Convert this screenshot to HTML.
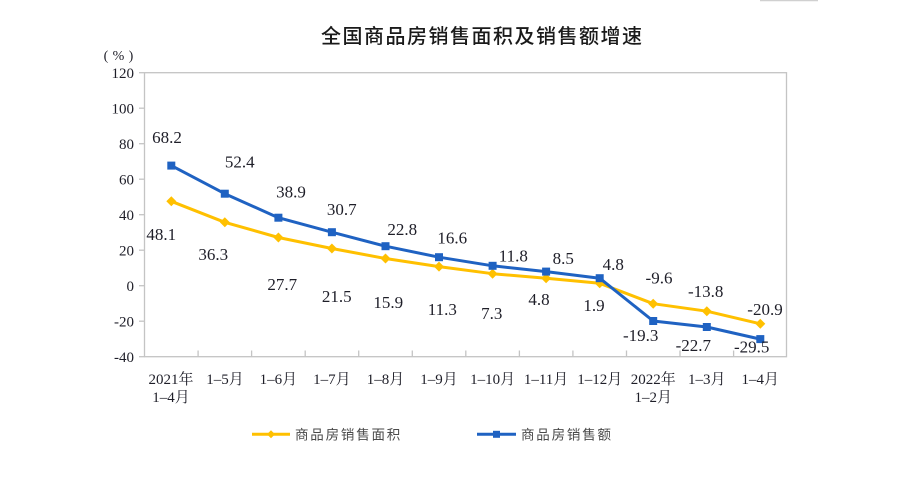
<!DOCTYPE html>
<html><head><meta charset="utf-8"><style>
html,body{margin:0;padding:0;background:#fff;}
svg{display:block;}
.t{font-family:"Liberation Serif","Noto Serif CJK SC",serif;fill:#1e1e28;}
</style></head><body>
<svg width="898" height="483" viewBox="0 0 898 483" xmlns="http://www.w3.org/2000/svg">
<rect width="898" height="483" fill="#fff"/>
<line x1="760" y1="0.5" x2="818" y2="0.5" stroke="#d0d0d0" stroke-width="1.5"/>
<text x="481.5" y="43" text-anchor="middle" font-family="'Liberation Sans','Noto Sans CJK SC',sans-serif" font-size="20" font-weight="500" fill="#1a1a1a" textLength="321" lengthAdjust="spacing">全国商品房销售面积及销售额增速</text>
<g class="t" font-size="14" text-anchor="middle">
<text x="106" y="60">(</text>
<text x="118.5" y="60">%</text>
<text x="131" y="60">)</text>
</g>
<!-- frame -->
<rect x="144.5" y="72.7" width="642" height="284" fill="none" stroke="#c4c4c4" stroke-width="1.3"/>
<g stroke="#c4c4c4" stroke-width="1.3">
<line x1="139" y1="72.7" x2="144.5" y2="72.7"/>
<line x1="139" y1="108.2" x2="144.5" y2="108.2"/>
<line x1="139" y1="143.7" x2="144.5" y2="143.7"/>
<line x1="139" y1="179.2" x2="144.5" y2="179.2"/>
<line x1="139" y1="214.7" x2="144.5" y2="214.7"/>
<line x1="139" y1="250.2" x2="144.5" y2="250.2"/>
<line x1="139" y1="285.7" x2="144.5" y2="285.7"/>
<line x1="139" y1="321.2" x2="144.5" y2="321.2"/>
<line x1="139" y1="356.7" x2="144.5" y2="356.7"/>
<line x1="198.1" y1="350.5" x2="198.1" y2="356.7"/>
<line x1="251.6" y1="350.5" x2="251.6" y2="356.7"/>
<line x1="305.2" y1="350.5" x2="305.2" y2="356.7"/>
<line x1="358.7" y1="350.5" x2="358.7" y2="356.7"/>
<line x1="412.3" y1="350.5" x2="412.3" y2="356.7"/>
<line x1="465.8" y1="350.5" x2="465.8" y2="356.7"/>
<line x1="519.4" y1="350.5" x2="519.4" y2="356.7"/>
<line x1="572.9" y1="350.5" x2="572.9" y2="356.7"/>
<line x1="626.5" y1="350.5" x2="626.5" y2="356.7"/>
<line x1="680.0" y1="350.5" x2="680.0" y2="356.7"/>
<line x1="733.6" y1="350.5" x2="733.6" y2="356.7"/>
</g>
<!-- y labels -->
<g class="t" font-size="15" text-anchor="end">
<text x="134" y="78">120</text>
<text x="134" y="113.5">100</text>
<text x="134" y="149">80</text>
<text x="134" y="184.5">60</text>
<text x="134" y="220">40</text>
<text x="134" y="255.5">20</text>
<text x="134" y="291">0</text>
<text x="134" y="326.5">-20</text>
<text x="134" y="362">-40</text>
</g>
<!-- x labels -->
<g class="t" font-size="15" text-anchor="middle">
<text x="171" y="384">2021年</text>
<text x="171" y="402">1–4月</text>
<text x="225" y="384">1–5月</text>
<text x="278.4" y="384">1–6月</text>
<text x="331.9" y="384">1–7月</text>
<text x="385.5" y="384">1–8月</text>
<text x="439" y="384">1–9月</text>
<text x="492.6" y="384">1–10月</text>
<text x="546.1" y="384">1–11月</text>
<text x="599.7" y="384">1–12月</text>
<text x="653.2" y="384">2022年</text>
<text x="653.2" y="402">1–2月</text>
<text x="706.8" y="384">1–3月</text>
<text x="760.3" y="384">1–4月</text>
</g>
<!-- yellow series -->
<polyline fill="none" stroke="#FFC000" stroke-width="3" stroke-linejoin="round"
 points="171.3,201.3 224.8,222.3 278.4,237.5 331.9,248.5 385.5,258.5 439,266.6 492.6,273.7 546.1,278.2 599.7,283.3 653.2,303.7 706.8,311.2 760.3,323.8"/>
<g fill="#FFC000">
<path d="M171.3,196.3 l5,5 l-5,5 l-5,-5z"/>
<path d="M224.8,217.3 l5,5 l-5,5 l-5,-5z"/>
<path d="M278.4,232.5 l5,5 l-5,5 l-5,-5z"/>
<path d="M331.9,243.5 l5,5 l-5,5 l-5,-5z"/>
<path d="M385.5,253.5 l5,5 l-5,5 l-5,-5z"/>
<path d="M439,261.6 l5,5 l-5,5 l-5,-5z"/>
<path d="M492.6,268.7 l5,5 l-5,5 l-5,-5z"/>
<path d="M546.1,273.2 l5,5 l-5,5 l-5,-5z"/>
<path d="M599.7,278.3 l5,5 l-5,5 l-5,-5z"/>
<path d="M653.2,298.7 l5,5 l-5,5 l-5,-5z"/>
<path d="M706.8,306.2 l5,5 l-5,5 l-5,-5z"/>
<path d="M760.3,318.8 l5,5 l-5,5 l-5,-5z"/>
</g>
<!-- blue series -->
<polyline fill="none" stroke="#1F62C2" stroke-width="3" stroke-linejoin="round"
 points="171.3,165.6 224.8,193.7 278.4,217.7 331.9,232.2 385.5,246.2 439,257.2 492.6,265.8 546.1,271.6 599.7,278.2 653.2,321 706.8,327 760.3,339.1"/>
<g fill="#1F62C2">
<rect x="167.3" y="161.6" width="8" height="8"/>
<rect x="220.8" y="189.7" width="8" height="8"/>
<rect x="274.4" y="213.7" width="8" height="8"/>
<rect x="327.9" y="228.2" width="8" height="8"/>
<rect x="381.5" y="242.2" width="8" height="8"/>
<rect x="435" y="253.2" width="8" height="8"/>
<rect x="488.6" y="261.8" width="8" height="8"/>
<rect x="542.1" y="267.6" width="8" height="8"/>
<rect x="595.7" y="274.2" width="8" height="8"/>
<rect x="649.2" y="317" width="8" height="8"/>
<rect x="702.8" y="323" width="8" height="8"/>
<rect x="756.3" y="335.1" width="8" height="8"/>
</g>
<!-- blue labels -->
<g class="t" font-size="17" text-anchor="middle">
<text x="167" y="143">68.2</text>
<text x="239.7" y="167.5">52.4</text>
<text x="291" y="197.5">38.9</text>
<text x="341.7" y="215">30.7</text>
<text x="402.3" y="235">22.8</text>
<text x="452.3" y="243.5">16.6</text>
<text x="513.3" y="261.5">11.8</text>
<text x="563.3" y="264">8.5</text>
<text x="613.3" y="270">4.8</text>
<text x="640.7" y="341">-19.3</text>
<text x="693.3" y="351">-22.7</text>
<text x="751.7" y="352.5">-29.5</text>
</g>
<!-- yellow labels -->
<g class="t" font-size="17" text-anchor="middle">
<text x="161.3" y="240">48.1</text>
<text x="213.3" y="260">36.3</text>
<text x="282.3" y="290">27.7</text>
<text x="336.7" y="302">21.5</text>
<text x="388.3" y="308">15.9</text>
<text x="442.3" y="315">11.3</text>
<text x="491.7" y="319">7.3</text>
<text x="539" y="305">4.8</text>
<text x="594" y="311">1.9</text>
<text x="659" y="283.5">-9.6</text>
<text x="705.7" y="297">-13.8</text>
<text x="765" y="315">-20.9</text>
</g>
<!-- legend -->
<line x1="252" y1="434.3" x2="290" y2="434.3" stroke="#FFC000" stroke-width="3"/>
<path d="M271,430.3 l4,4 l-4,4 l-4,-4z" fill="#FFC000"/>
<text x="295" y="439.5" font-family="'Liberation Sans','Noto Sans CJK SC',sans-serif" font-size="13.5" letter-spacing="1.8" fill="#4a4a4a">商品房销售面积</text>
<line x1="477" y1="434.3" x2="516" y2="434.3" stroke="#1F62C2" stroke-width="3"/>
<rect x="493" y="430.8" width="7" height="7" fill="#1F62C2"/>
<text x="521" y="439.5" font-family="'Liberation Sans','Noto Sans CJK SC',sans-serif" font-size="13.5" letter-spacing="1.8" fill="#4a4a4a">商品房销售额</text>
</svg>
</body></html>
